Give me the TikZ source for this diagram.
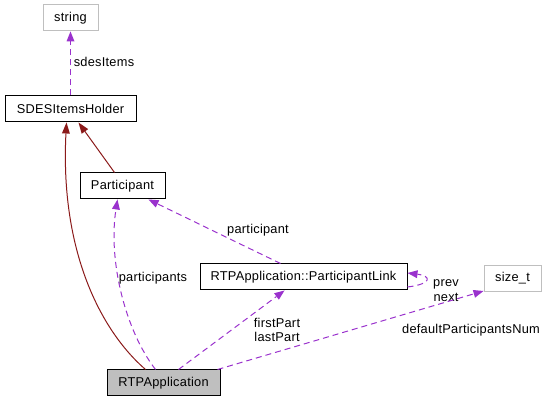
\documentclass[tikz,border=0pt]{standalone}
\usepackage{fontspec}
\setmainfont{Liberation Sans}[LetterSpace=2]
\usetikzlibrary{arrows.meta,calc}
\definecolor{edgepurple}{HTML}{9A32CD}
\definecolor{edgered}{HTML}{8B1A1A}
\definecolor{boxgray}{HTML}{BFBFBF}
\begin{document}
\begin{tikzpicture}[x=1pt,y=-1pt,
  font=\fontsize{12.8}{14.5}\selectfont,
  cls/.style={draw=black,line width=1pt,inner sep=0pt,minimum height=26pt,anchor=center},
  ext/.style={draw=boxgray,line width=1pt,inner sep=0pt,minimum height=26pt,anchor=center},
  usage/.style={draw=edgepurple,line width=1pt,dash pattern=on 6pt off 4pt,-{Triangle[length=10pt,width=8pt,fill=edgepurple,line width=0pt]}},
  inherit/.style={draw=edgered,line width=1pt,-{Triangle[length=11pt,width=8pt,fill=edgered,line width=0pt]}},
  lbl/.style={inner sep=0pt,align=center}]
\useasboundingbox (0,0) rectangle (547,403);
\node[ext,minimum width=55pt] (str) at (70.5,18) {string};
\node[cls,minimum width=131pt] (sdes) at (70.5,109) {SDESItemsHolder};
\node[cls,minimum width=85pt] (part) at (122.5,186) {Participant};
\node[cls,minimum width=207pt] (pl) at (303.5,277) {RTPApplication::ParticipantLink};
\node[ext,minimum width=57pt] (sz) at (512.5,278.5) {size\_t};
\node[cls,minimum width=113pt,fill=boxgray] (rtp) at (163.5,383) {RTPApplication};

% sdesItems
\draw[usage] (sdes.north) -- (str.south);
\node[lbl] (l1) at (104,62) {sdesItems};

% inheritance
\draw[inherit] ($(part.north)+(-8,0)$) -- ($(sdes.south)+(8,0)$);
\draw[inherit] ($(rtp.north)+(-18,0)$) .. controls (100,330) and (60,250) .. ($(sdes.south)+(-4,0)$);

% participants
\draw[usage] ($(rtp.north)+(-8,0)$) .. controls (125,330) and (108,260) .. ($(part.south)+(-5,0)$);
\node[lbl] (l2) at (153,278) {participants};

% participant
\draw[usage] ($(pl.north)+(-23,0)$) -- ($(part.south)+(26,0)$);
\node[lbl] (l3) at (258,230) {participant};

% firstPart lastPart
\draw[usage] ($(rtp.north)+(15,0)$) -- ($(pl.south)+(-19,0)$);
\node[lbl] (l4) at (277,330) {firstPart\\lastPart};

% self loop
\draw[usage] ($(pl.east)+(0,10)$) .. controls (432,284) and (432,276) .. ($(pl.east)+(0,-4)$);
\node[lbl] (l5) at (446,290.5) {prev\\next};

% defaultParticipantsNum
\draw[usage] ($(rtp.north)+(54,0)$) -- ($(sz.south west)+(0,-1)$);
\node[lbl] (l6) at (471,330) {defaultParticipantsNum};
\end{tikzpicture}
\end{document}
